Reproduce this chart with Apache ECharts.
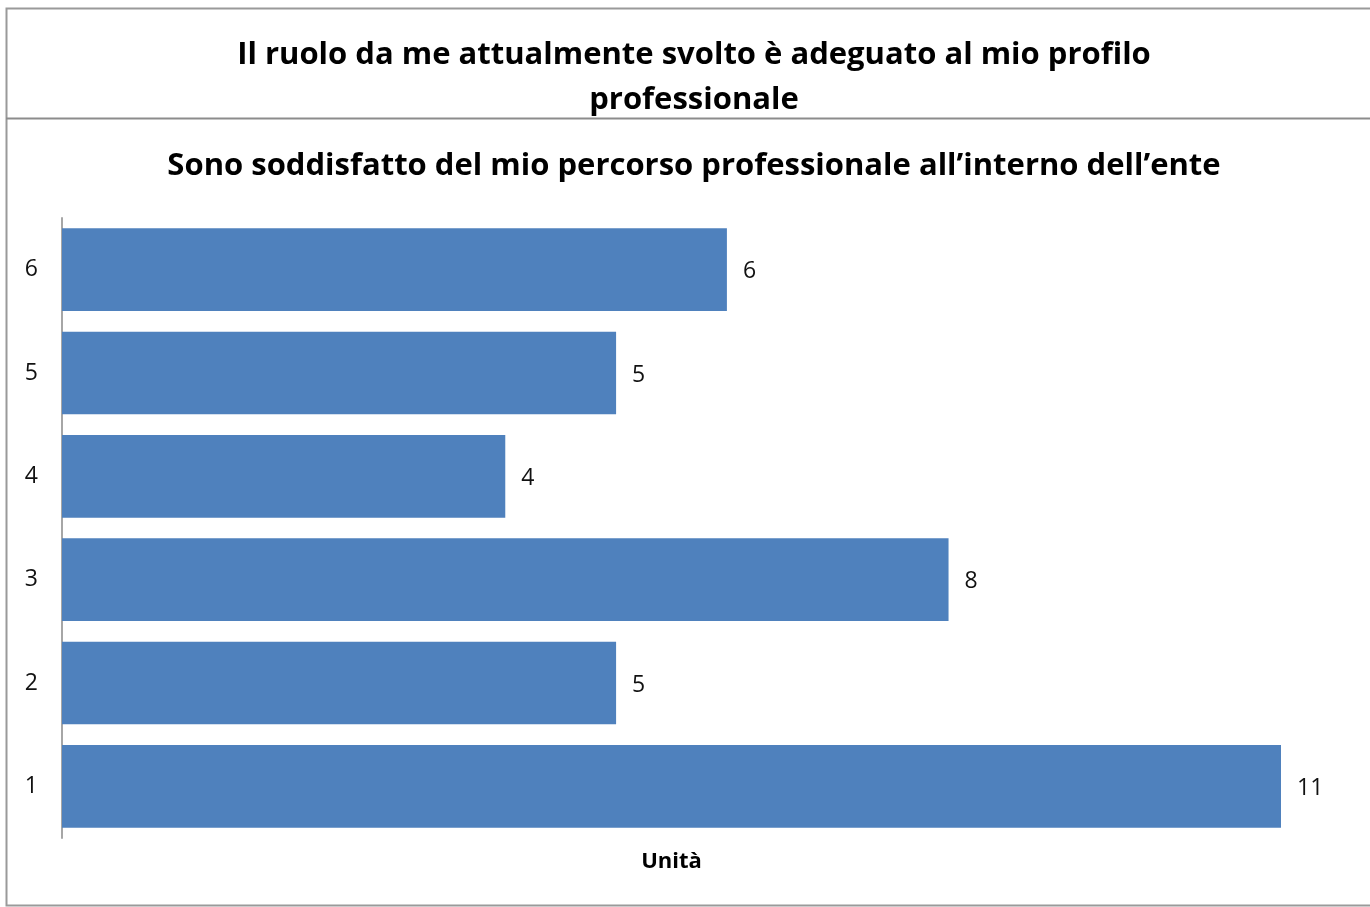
<!DOCTYPE html>
<html>
<head>
<meta charset="utf-8">
<script src="https://cdn.jsdelivr.net/npm/echarts@6/dist/echarts.min.js"></script>
<style>
  html, body { margin: 0; padding: 0; background: #fff; }
  #chart { width: 1370px; height: 907px; }
</style>
</head>
<body>
<div id="chart"></div>
<script>
// data
var categories = ['1', '2', '3', '4', '5', '6'];
var values = [11, 5, 8, 4, 5, 6];
var titleText = 'Il ruolo da me attualmente svolto è adeguato al mio profilo\nprofessionale';
var subTitleText = 'Sono soddisfatto del mio percorso professionale all\u2019interno dell\u2019ente';
var axisName = 'Unità';

var font = '"Open Sans", "Noto Sans", sans-serif';
var chart = echarts.init(document.getElementById('chart'));

chart.setOption({
  animation: false,
  backgroundColor: '#fff',
  textStyle: { fontFamily: font },
  graphic: [
    // outer frame
    { type: 'rect', shape: { x: 6.5, y: 8.5, width: 1380, height: 897 },
      style: { fill: 'none', stroke: '#9a9a9a', lineWidth: 2 } },
    // line under the top title box
    { type: 'line', shape: { x1: 6, y1: 118.5, x2: 1370, y2: 118.5 },
      style: { stroke: '#8c8c8c', lineWidth: 2 } }
  ],
  title: [
    {
      text: titleText,
      left: 689, top: 28, textAlign: 'center',
      textStyle: { fontFamily: font, fontSize: 31, fontWeight: 'bold', color: '#000', lineHeight: 45 }
    },
    {
      text: subTitleText,
      left: 689, top: 146, textAlign: 'center',
      textStyle: { fontFamily: font, fontSize: 31, fontWeight: 'bold', color: '#000' }
    }
  ],
  grid: { left: 62, width: 1219, top: 218, bottom: 69, containLabel: false },
  xAxis: {
    type: 'value',
    min: 0, max: 11,
    name: axisName,
    nameLocation: 'middle',
    nameGap: 13,
    nameTextStyle: { fontFamily: font, fontSize: 22, fontWeight: 'bold', color: '#000' },
    axisLine: { show: false },
    axisTick: { show: false },
    axisLabel: { show: false },
    splitLine: { show: false }
  },
  yAxis: {
    type: 'category',
    data: categories,
    axisLine: { show: true, lineStyle: { color: '#a6a6a6', width: 2 } },
    axisTick: { show: false },
    axisLabel: { margin: 24, fontFamily: font, fontSize: 23, color: '#111', padding: [4, 0, 0, 0] }
  },
  series: [{
    type: 'bar',
    data: values,
    barCategoryGap: '20%',
    itemStyle: { color: '#4f81bd' },
    label: {
      show: true, position: 'right', distance: 16, offset: [0, 2],
      fontFamily: font, fontSize: 23, color: '#111'
    }
  }]
});
</script>
</body>
</html>
